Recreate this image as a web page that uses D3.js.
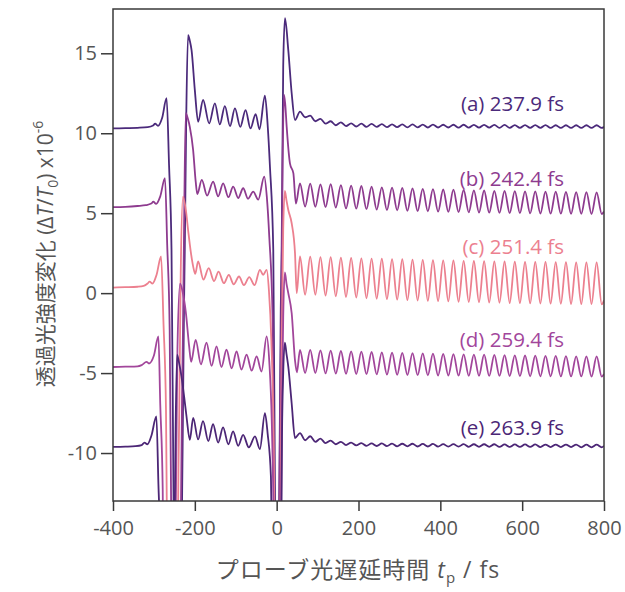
<!DOCTYPE html>
<meta charset="utf-8">
<script src="https://d3js.org/d3.v7.min.js"></script>
<style>
  body { margin: 0; background: #fff; }
  text { font-family: "Open Sans", "Noto Sans", "Noto Sans CJK JP", sans-serif; }
</style>
<body>
<div id="chart"></div>
<script>

// front part of each trace: [delay fs, signal x1e-6]
var frontA = [[-400,10.3],[-370,10.32],[-340,10.34],[-315,10.38],[-302,10.48],[-297,10.6],[-290,10.46],[-280,10.95],
  [-269,12.19],[-263,8],[-257,2.7],[-252,-13],[-244,-24],[-236,-22],[-230,-10],[-226.5,-1],[-224.6,2.7],[-221,11],
  [-216.5,16.14],[-212,15.75],[-208,15.2],[-200,12.7],[-192,10.72],[-179.8,12.08],[-165,10.62],[-151,11.87],
  [-139,10.55],[-126.6,11.7],[-114,10.45],[-102,11.55],[-89,10.4],[-76,11.45],[-64,10.3],[-51.4,11.2],[-42,10.25],
  [-28.7,12.35],[-22,10.5],[-16.4,7.9],[-8.3,2.7],[-4,-13],[1,-24],[6,-14],[10,-1],[12.2,2.7],[16,14.2],
  [20.3,17.19],[28.4,15.2],[36.7,12.5],[44.8,10.83],[57,11.35],[69.5,11.0]];

var frontB = [[-400,5.38],[-370,5.4],[-340,5.45],[-320,5.5],[-306.5,5.6],[-301.5,5.72],[-294.5,5.58],[-284.5,6.05],
  [-273,7.19],[-267.5,3],[-261.5,-2.3],[-256.5,-18],[-248.5,-29],[-240.5,-27],[-234.5,-15],[-231,-6],[-229,-2.3],
  [-225.5,6],[-222,11.25],[-217,10.9],[-212.3,10.4],[-204.2,8.96],[-198,7.0],[-194,6.2],[-183,7.08],[-170,6.1],
  [-155.3,6.98],[-143,6.05],[-130.8,6.87],[-118,6.0],[-106.3,6.66],[-94,5.95],[-81.8,6.56],[-70,5.9],[-57.3,6.35],
  [-45,5.85],[-30.4,7.29],[-24,6.0],[-18,3.5],[-10,-1.5],[-5,-16],[0,-27],[5,-18],[9,-6],[11.5,-1],[14.5,8],
  [18,12.4],[21,11.8],[24.5,10.4],[32.6,8.1],[40.8,7.5],[47,5.6],[57,6.87],[69.5,5.41]];

var frontC = [[-400,0.35],[-370,0.37],[-340,0.4],[-325,0.45],[-315.5,0.6],[-310.5,0.72],[-303.5,0.6],[-293.5,1.15],
  [-282.5,2.29],[-276.5,-1.96],[-270.5,-7.3],[-265.5,-23],[-257.5,-34],[-249.5,-32],[-243.5,-20],[-240,-11],
  [-238,-7.3],[-234.5,1.2],[-229,6.04],[-222,5.2],[-216.5,3.96],[-210,2.6],[-204,1.66],[-199,1.2],[-192,1.98],
  [-179,0.85],[-166,1.56],[-153,0.75],[-142,1.35],[-129,0.62],[-117,1.14],[-105,0.55],[-92,1.04],[-80,0.5],
  [-67,1.0],[-54,0.5],[-41,1.46],[-33,1.15],[-24.5,1.46],[-19,0.2],[-13,-3],[-7,-10],[-3,-22],[2,-33],[7,-22],
  [10.5,-10],[13,-2],[16,4],[20,6.4],[24,5.8],[28.4,5.2],[36.7,4.37],[44.8,2.5],[49,0.0],[57,2.29],[69.5,-0.1]];

var frontD = [[-400,-4.62],[-370,-4.6],[-340,-4.58],[-330,-4.5],[-318,-4.3],[-312,-4.4],[-300,-3.9],
  [-289,-2.71],[-284.5,-6.97],[-278.5,-12.3],[-273.5,-28],[-265.5,-39],[-257.5,-37],[-251.5,-25],[-248,-16],
  [-246,-12.3],[-242.5,-3.5],[-236,0.6],[-230,0.1],[-222,-1.2],[-214,-3.3],[-209,-4.3],[-198,-2.92],[-185,-4.45],
  [-171.5,-3.1],[-159,-4.55],[-147,-3.33],[-135,-4.62],[-122.5,-3.54],[-110,-4.7],[-98,-3.65],[-86,-4.78],
  [-73.5,-3.85],[-61,-4.85],[-49,-3.96],[-37,-4.9],[-24.5,-2.71],[-18,-4.3],[-12,-8],[-7,-15],[-3,-27],[2,-38],
  [7,-27],[10.5,-15],[13,-7],[16,-1.5],[20,1.3],[24,0.6],[28.4,0],[36.7,-1.25],[44.8,-4.2],[49.5,-4.95],
  [57,-3.55],[69.5,-5.0]];

var frontE = [[-400,-9.62],[-370,-9.6],[-345,-9.57],[-330,-9.5],[-323,-9.35],[-316,-9.45],[-306,-8.9],
  [-294,-7.71],[-289,-11.96],[-283,-17.3],[-278,-33],[-270,-44],[-262,-42],[-256,-30],[-252.5,-21],[-250.5,-17.3],
  [-247,-8.5],[-243.4,-3.86],[-239,-4.3],[-232.7,-5.2],[-226,-6.5],[-220.4,-7.7],[-212.3,-9.17],[-204,-7.8],
  [-192,-9.15],[-180,-8.0],[-167,-9.25],[-155.5,-8.2],[-143,-9.35],[-131,-8.4],[-118,-9.45],[-106.5,-8.65],
  [-94,-9.55],[-82,-8.86],[-68,-9.65],[-53,-8.96],[-41,-9.75],[-28.7,-7.5],[-22,-8.8],[-14,-11.5],[-9,-20],
  [-5,-33],[0,-44],[6,-33],[10,-20],[13,-9],[16,-5],[20,-3.1],[24,-3.8],[28.4,-4.6],[36.7,-6.9],[44.8,-9.06],
  [57,-8.75],[69.5,-9.2]];

// oscillating tail: peak / trough times, then values for each trace
var tailT = [82,94.5,107,119.5,132,144.5,157,169.5,182,194.5,
  207,219.5,232,244.5,257,269.5,282,294.5,307,319.5,
  332,344.5,357,369.5,382,394.5,407,419.5,432,444.5,
  457,469.5,482,494.5,507,519.5,532,544.5,557,569.5,
  582,594.5,607,619.5,632,644.5,657,669.5,682,694.5,
  707,719.5,732,744.5,757,769.5,782,794.5,800];

var tailA = [11.1,10.75,10.9,10.6,10.75,10.5,10.68,10.45,10.62,10.42,
  10.6,10.4,10.58,10.4,10.57,10.38,10.56,10.38,10.55,10.37,
  10.55,10.37,10.54,10.36,10.54,10.36,10.53,10.36,10.53,10.35,
  10.53,10.35,10.52,10.35,10.52,10.35,10.52,10.34,10.52,10.34,
  10.51,10.34,10.51,10.34,10.51,10.34,10.51,10.33,10.5,10.33,
  10.5,10.33,10.5,10.33,10.5,10.33,10.5,10.33,10.4];

var tailB = [6.85,5.4,6.8,5.38,6.82,5.35,6.75,5.3,6.72,5.28,
  6.7,5.25,6.66,5.22,6.62,5.2,6.6,5.18,6.58,5.15,
  6.55,5.13,6.52,5.12,6.5,5.1,6.48,5.08,6.47,5.07,
  6.45,5.05,6.43,5.04,6.42,5.03,6.4,5.02,6.4,5.0,
  6.38,5.0,6.37,4.99,6.36,4.98,6.35,4.97,6.35,4.97,
  6.33,4.96,6.32,4.96,6.32,4.95,6.3,4.95,5.1];

var tailC = [2.28,-0.1,2.25,-0.15,2.25,-0.2,2.22,-0.24,2.2,-0.28,
  2.18,-0.32,2.16,-0.35,2.15,-0.38,2.13,-0.41,2.12,-0.44,
  2.1,-0.46,2.08,-0.48,2.07,-0.5,2.05,-0.52,2.04,-0.54,
  2.02,-0.56,2.01,-0.57,2.0,-0.59,1.99,-0.6,1.98,-0.62,
  1.97,-0.63,1.96,-0.64,1.96,-0.65,1.95,-0.66,1.94,-0.67,
  1.94,-0.68,1.93,-0.69,1.93,-0.69,1.92,-0.7,-0.45];

var tailD = [-3.55,-5.0,-3.58,-5.02,-3.6,-5.03,-3.62,-5.05,-3.64,-5.06,
  -3.66,-5.07,-3.68,-5.08,-3.7,-5.1,-3.72,-5.11,-3.74,-5.12,
  -3.75,-5.13,-3.77,-5.14,-3.78,-5.15,-3.8,-5.15,-3.81,-5.16,
  -3.83,-5.17,-3.84,-5.17,-3.85,-5.18,-3.86,-5.18,-3.88,-5.19,
  -3.89,-5.19,-3.9,-5.2,-3.91,-5.2,-3.92,-5.2,-3.93,-5.21,
  -3.94,-5.21,-3.95,-5.21,-3.95,-5.22,-3.96,-5.22,-5.05];

var tailE = [-8.95,-9.3,-9.1,-9.38,-9.22,-9.45,-9.3,-9.5,-9.35,-9.52,
  -9.38,-9.55,-9.4,-9.56,-9.4,-9.57,-9.41,-9.58,-9.42,-9.58,
  -9.42,-9.59,-9.43,-9.59,-9.43,-9.6,-9.44,-9.6,-9.44,-9.6,
  -9.44,-9.61,-9.45,-9.61,-9.45,-9.61,-9.45,-9.62,-9.46,-9.62,
  -9.46,-9.62,-9.46,-9.62,-9.46,-9.63,-9.47,-9.63,-9.47,-9.63,
  -9.47,-9.63,-9.47,-9.64,-9.48,-9.64,-9.48,-9.64,-9.55];

var labels = ["(a) 237.9 fs", "(b) 242.4 fs", "(c) 251.4 fs", "(d) 259.4 fs", "(e) 263.9 fs"];
var labelY = [111, 186, 254, 347, 435];
var colors = ["#4b2a7b", "#8e3b8f", "#ec808f", "#a2469b", "#4c2676"];
var xTicks = [-400, -200, 0, 200, 400, 600, 800];
var yTicks = [-10, -5, 0, 5, 10, 15];

var fronts = [frontA, frontB, frontC, frontD, frontE];
var tails = [tailA, tailB, tailC, tailD, tailE];
var traces = fronts.map(function(f, i) {
  return f.concat(tailT.map(function(t, j) { return [t, tails[i][j]]; }));
});

var margin = {top: 9, right: 21, bottom: 91, left: 113},
    width = 625 - margin.left - margin.right,
    height = 592 - margin.top - margin.bottom;

var svg = d3.select("#chart")
  .append("svg")
    .attr("width", 625)
    .attr("height", 592)
  .append("g")
    .attr("transform", "translate(" + margin.left + "," + margin.top + ")");

var x = d3.scaleLinear().domain([-400, 800]).range([0, width]);
var y = d3.scaleLinear().domain([-13, 17.77]).range([height, 0]);

svg.append("clipPath").attr("id", "plotclip")
  .append("rect").attr("width", width).attr("height", height);

var line = d3.line()
  .x(function(d) { return x(d[0]); })
  .y(function(d) { return y(d[1]); })
  .curve(d3.curveMonotoneX);

svg.append("g").attr("clip-path", "url(#plotclip)")
  .selectAll("path")
  .data(traces)
  .enter()
  .append("path")
    .attr("d", line)
    .attr("fill", "none")
    .attr("stroke", function(d, i) { return colors[i]; })
    .attr("stroke-width", 1.8)
    .attr("stroke-linejoin", "round");

// trace labels
svg.selectAll(".lab")
  .data(labels)
  .enter()
  .append("text")
    .attr("x", 564 - margin.left)
    .attr("y", function(d, i) { return labelY[i] - margin.top; })
    .attr("text-anchor", "end")
    .attr("font-size", "20.5px")
    .attr("fill", function(d, i) { return colors[i]; })
    .text(function(d) { return d; });

// axes (plain hyphen for minus, as in the original)
var fmt = function(d) { return String(d); };
var xAxis = svg.append("g")
  .attr("transform", "translate(0," + height + ")")
  .call(d3.axisBottom(x).tickValues(xTicks).tickFormat(fmt).tickSize(10).tickPadding(10));
var yAxis = svg.append("g")
  .call(d3.axisLeft(y).tickValues(yTicks).tickFormat(fmt).tickSize(12).tickPadding(4));

[xAxis, yAxis].forEach(function(g) {
  g.select(".domain").remove();
  g.selectAll("line").attr("stroke", "#3a3a3a").attr("stroke-width", 1.5);
  g.selectAll("text").attr("font-size", "20px").attr("fill", "#555")
    .style("font-family", "'Open Sans', 'Noto Sans', sans-serif");
});

svg.append("rect")
  .attr("width", width)
  .attr("height", height)
  .attr("fill", "none")
  .attr("stroke", "#3a3a3a")
  .attr("stroke-width", 1.5);

// axis titles
var xt = svg.append("text")
  .attr("x", 358 - margin.left)
  .attr("y", 578 - margin.top)
  .attr("text-anchor", "middle")
  .attr("font-size", "23px")
  .attr("letter-spacing", "1px")
  .attr("fill", "#555");
xt.append("tspan").text("プローブ光遅延時間 ");
xt.append("tspan").attr("font-style", "italic").text("t");
xt.append("tspan").attr("font-size", "15px").attr("dy", 5).text("p");
xt.append("tspan").attr("dy", -5).text(" / fs");

var yt = svg.append("text")
  .attr("transform", "translate(" + (53 - margin.left) + "," + (254 - margin.top) + ") rotate(-90)")
  .attr("text-anchor", "middle")
  .attr("font-size", "21px")
  .attr("fill", "#555");
yt.append("tspan").text("透過光強度変化 (Δ");
yt.append("tspan").attr("font-style", "italic").text("T");
yt.append("tspan").text("/");
yt.append("tspan").attr("font-style", "italic").text("T");
yt.append("tspan").attr("font-size", "14px").attr("dy", 5).text("0");
yt.append("tspan").attr("dy", -5).text(") x10");
yt.append("tspan").attr("font-size", "14px").attr("dy", -10).text("-6");

</script>
</body>
